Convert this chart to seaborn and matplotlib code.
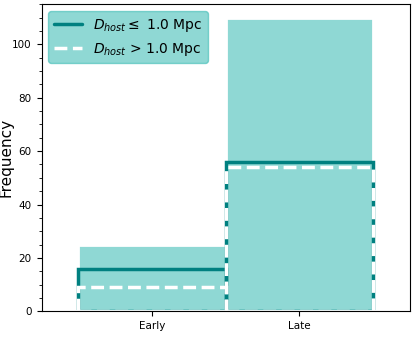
import matplotlib
matplotlib.use("Agg")
import matplotlib.pyplot as plt
import numpy as np
import pandas as pd
import seaborn as sns
from matplotlib.lines import Line2D
from matplotlib.ticker import MultipleLocator
from matplotlib.transforms import Bbox, TransformedBbox

# counts
categories = ["Early", "Late"]
total_counts = [25, 110]
near_counts = [16, 56]   # D_host <= 1.0 Mpc
far_counts = [9, 54]     # D_host > 1.0 Mpc

sns.set_style("ticks", {"text.color": "black", "axes.labelcolor": "black",
                        "xtick.color": "black", "ytick.color": "black"})

df = pd.DataFrame({"pos": np.arange(len(categories)),
                   "total": total_counts,
                   "near": near_counts,
                   "far": far_counts})
bins = [i - 0.5 for i in range(len(categories) + 1)]

fig, ax = plt.subplots(figsize=(4.15, 3.46), dpi=100)

# total, filled
sns.histplot(data=df, x="pos", weights="total", bins=bins, color="lightseagreen",
             alpha=0.5, edgecolor="white", linewidth=2, ax=ax)
n_fill = len(ax.patches)
# near hosts, teal outline
sns.histplot(data=df, x="pos", weights="near", bins=bins, fill=False,
             element="bars", color="teal", linewidth=2.5, ax=ax)
# far hosts, white dashed outline
sns.histplot(data=df, x="pos", weights="far", bins=bins, fill=False,
             element="bars", color="white", linewidth=2.5, linestyle="--", ax=ax)

# hide the bottom edge of the outline bars (like a step outline)
clip = TransformedBbox(Bbox([[0, 0.006], [1, 1]]), ax.transAxes)
for p in ax.patches[n_fill:]:
    p.set_clip_box(clip)

ax.set_xlim(-0.75, 1.75)
ax.set_ylim(0, 115)
ax.set_xticks(df["pos"])
ax.set_xticklabels(categories)
ax.yaxis.set_minor_locator(MultipleLocator(5))
ax.tick_params(axis="both", labelsize=7.5)
ax.set_ylabel("Frequency", fontsize=11)
ax.yaxis.set_label_coords(-0.075, 0.5)
ax.set_xlabel("")
for s in ax.spines.values():
    s.set_visible(True)
    s.set_color("black")

handles = [Line2D([], [], color="teal", linewidth=2.5),
           Line2D([], [], color="white", linewidth=2.5, linestyle="--")]
labels = [r"$D_{host} \leq$ 1.0 Mpc", r"$D_{host}$ > 1.0 Mpc"]
leg = ax.legend(handles, labels, loc="upper left", fontsize=10,
                facecolor="lightseagreen", edgecolor="lightseagreen", framealpha=0.5)

fig.subplots_adjust(left=0.1, right=0.988, top=0.988, bottom=0.1)
fig.savefig("out.png", dpi=100)
